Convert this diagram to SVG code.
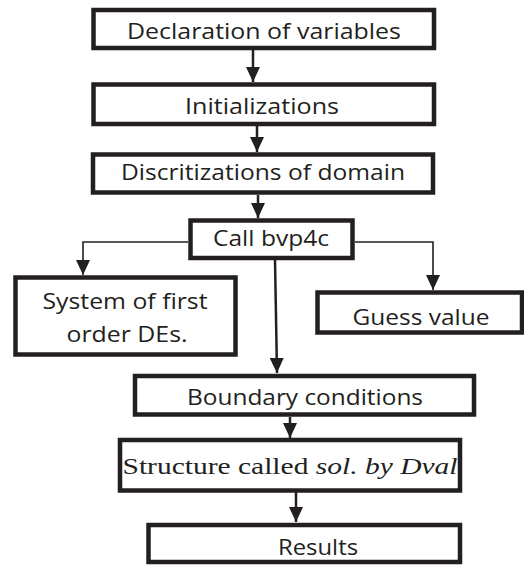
<svg xmlns="http://www.w3.org/2000/svg" width="524" height="565" viewBox="0 0 524 565">
<defs>
<marker id="ah" markerUnits="userSpaceOnUse" markerWidth="16" markerHeight="14" refX="15" refY="7" orient="auto">
<path d="M0,0 L15,7 L0,14 Z" fill="#231f20"/>
</marker>
<style>
.box{fill:#fff;stroke:#231f20;stroke-width:4.5}
.t{font-family:"Open Sans","Liberation Sans",sans-serif;font-size:21px;fill:#231f20;text-anchor:middle}
.s{font-family:"Liberation Serif","Times New Roman",serif;font-size:24px;fill:#231f20;text-anchor:middle}
.c{fill:none;stroke:#231f20;stroke-width:2.5}
.c2{fill:none;stroke:#231f20;stroke-width:1.6}
</style>
</defs>
<rect width="524" height="565" fill="#fff"/>
<g id="connectors">
<path class="c" d="M253,50 V82" marker-end="url(#ah)"/>
<path class="c" d="M257,126 V152" marker-end="url(#ah)"/>
<path class="c" d="M258,195 V218" marker-end="url(#ah)"/>
<path class="c2" d="M188,242 H83 V275" marker-end="url(#ah)"/>
<path class="c2" d="M355,242 H433 V290" marker-end="url(#ah)"/>
<path class="c" d="M275,260 L277,373" marker-end="url(#ah)"/>
<path class="c" d="M290,417 V438" marker-end="url(#ah)"/>
<path class="c" d="M296,492 V522" marker-end="url(#ah)"/>
</g>
<g id="n1"><rect class="box" x="93.5" y="10" width="340.5" height="38"/><text class="t" x="264" y="39" textLength="274" lengthAdjust="spacingAndGlyphs">Declaration of variables</text></g>
<g id="n2"><rect class="box" x="93.5" y="84.5" width="340.5" height="39.5"/><text class="t" x="262" y="114" textLength="154" lengthAdjust="spacingAndGlyphs">Initializations</text></g>
<g id="n3"><rect class="box" x="93" y="154.5" width="340" height="38"/><text class="t" x="263" y="180" textLength="284" lengthAdjust="spacingAndGlyphs">Discritizations of domain</text></g>
<g id="n4"><rect class="box" x="190.5" y="220.5" width="162" height="37.5"/><text class="t" x="271" y="246" textLength="116" lengthAdjust="spacingAndGlyphs">Call bvp4c</text></g>
<g id="n5"><rect class="box" x="15.5" y="277.5" width="220" height="77"/><text class="t" x="125" y="309" textLength="165" lengthAdjust="spacingAndGlyphs">System of first</text><text class="t" x="127" y="342" textLength="121" lengthAdjust="spacingAndGlyphs">order DEs.</text></g>
<g id="n6"><rect class="box" x="317.5" y="292.5" width="204.5" height="40"/><text class="t" x="421" y="325" textLength="137" lengthAdjust="spacingAndGlyphs">Guess value</text></g>
<g id="n7"><rect class="box" x="135" y="376" width="339" height="38.5"/><text class="t" x="305" y="405" textLength="236" lengthAdjust="spacingAndGlyphs">Boundary conditions</text></g>
<g id="n8"><rect class="box" x="120" y="440" width="340" height="50.5"/><text class="s" x="290" y="474" textLength="335" lengthAdjust="spacingAndGlyphs">Structure called <tspan font-style="italic">sol. by Dval</tspan></text></g>
<g id="n9"><rect class="box" x="148.5" y="525" width="311.5" height="37"/><text class="t" x="318" y="555" textLength="80" lengthAdjust="spacingAndGlyphs">Results</text></g>
</svg>
